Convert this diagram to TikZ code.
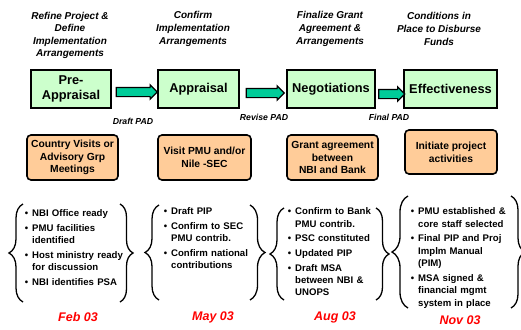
\documentclass[tikz,border=0pt]{standalone}
\usepackage{fontspec}
\setmainfont{Liberation Sans}
\usepackage{tikz}
\usetikzlibrary{positioning}
\usetikzlibrary{shapes.arrows}
\usetikzlibrary{decorations.pathreplacing}

\definecolor{phaseGreen}{HTML}{CCFFCC}
\definecolor{taskOrange}{HTML}{FFCC99}
\definecolor{arrowTeal}{HTML}{00CC99}

\newenvironment{checkList}{\raggedright\parskip=0pt
  \begin{list}{\textbullet}{\setlength{\leftmargin}{9pt}\setlength{\labelwidth}{5pt}%
    \setlength{\labelsep}{4pt}\setlength{\itemsep}{2.3pt}\setlength{\topsep}{0pt}%
    \setlength{\parsep}{0pt}\setlength{\partopsep}{0pt}}}{\end{list}}

\begin{document}
\begin{tikzpicture}
      [x=1pt,y=-1pt,
       phaseBox/.style={rectangle,draw=black,line width=1.6pt,fill=phaseGreen,minimum height=38pt,inner sep=0pt,align=center,font=\fontsize{12.8}{15}\selectfont\bfseries},
       taskBox/.style={rectangle,rounded corners=4pt,draw=black,line width=1.6pt,fill=taskOrange,minimum height=45pt,inner sep=0pt,align=center,font=\fontsize{10.3}{12.8}\selectfont\bfseries},
       goalText/.style={inner sep=0pt,align=center,font=\fontsize{10}{12.6}\selectfont\bfseries\itshape},
       padText/.style={inner sep=0pt,font=\fontsize{8.7}{10}\selectfont\bfseries\itshape},
       flowArrow/.style={single arrow,draw=black,line width=1.2pt,fill=arrowTeal,inner xsep=0pt,inner ysep=4pt,minimum width=0pt,single arrow head extend=2.6pt},
       itemList/.style={anchor=north west,inner sep=0pt,text width=#1,font=\fontsize{9.6}{12.4}\selectfont\bfseries},
       dateText/.style={inner sep=0pt,text=red,font=\fontsize{12.5}{14}\selectfont\bfseries\itshape},
       listBrace/.style={decorate,decoration={brace,amplitude=#1},line width=1.3pt}]
      \useasboundingbox (0,0) rectangle (521,329);

      % goals
      \node[goalText] (refineGoal) at (70,35.5) {Refine Project \&\\Define\\Implementation\\Arrangements};
      \node[goalText] (confirmGoal) at (193,29) {Confirm\\Implementation\\Arrangements};
      \node[goalText] (finalizeGoal) at (330,29) {Finalize Grant\\Agreement \&\\Arrangements};
      \node[goalText] (conditionsGoal) at (439,29) {Conditions in\\Place to Disburse\\Funds};

      % phases
      \node[phaseBox,minimum width=80pt] (preAppraisal) at (71,89) {Pre-\\Appraisal};
      \node[phaseBox,minimum width=81pt] (appraisal) at (198.5,89) {Appraisal};
      \node[phaseBox,minimum width=88pt] (negotiations) at (331,89) {Negotiations};
      \node[phaseBox,minimum width=93pt] (effectiveness) at (450.5,89) {Effectiveness};

      \path (preAppraisal.east) -- node[flowArrow,minimum height=41pt,yshift=-3pt] (draftArrow) {} (appraisal.west);
      \path (appraisal.east) -- node[flowArrow,minimum height=38pt,yshift=-4pt] (reviseArrow) {} (negotiations.west);
      \path (negotiations.east) -- node[flowArrow,minimum height=26pt,yshift=-5pt] (finalArrow) {} (effectiveness.west);

      \node[padText] (draftPad) at (133,121) {Draft PAD};
      \node[padText] (revisePad) at (264,117.5) {Revise PAD};
      \node[padText] (finalPad) at (389,117) {Final PAD};

      % activities
      \node[taskBox,minimum width=91pt] (countryVisits) at (72.5,157.5) {Country Visits or\\Advisory Grp\\Meetings};
      \node[taskBox,minimum width=93pt] (visitPmu) at (204.5,157.5) {Visit PMU and/or\\Nile -SEC};
      \node[taskBox,minimum width=91pt] (grantAgreement) at (332.5,157.5) {Grant agreement\\between\\NBI and Bank};
      \node[taskBox,minimum width=92pt,minimum height=44pt] (initiateProject) at (451,152) {Initiate project\\activities};

      % milestones
      \node[itemList=110pt] (febList) at (23,204) {\begin{checkList}
        \item NBI Office ready
        \item PMU facilities\\identified
        \item Host ministry ready\\for discussion
        \item NBI identifies PSA
      \end{checkList}};
      \node[itemList=100pt] (mayList) at (162,202) {\begin{checkList}
        \item Draft PIP
        \item Confirm to SEC\\PMU contrib.
        \item Confirm national\\contributions
      \end{checkList}};
      \node[itemList=100pt] (augList) at (286,202) {\begin{checkList}
        \item Confirm to Bank\\PMU contrib.
        \item PSC constituted
        \item Updated PIP
        \item Draft MSA\\between NBI \&\\UNOPS
      \end{checkList}};
      \node[itemList=110pt] (novList) at (409,202) {\begin{checkList}
        \item PMU established \&\\core staff selected
        \item Final PIP and Proj\\Implm Manual\\(PIM)
        \item MSA signed \&\\financial mgmt\\system in place
      \end{checkList}};

      \draw[listBrace=14pt] (23,302) -- (23,204);
      \draw[listBrace=13pt] (120,204) -- (120,302);
      \draw[listBrace=14pt] (159,300) -- (159,205);
      \draw[listBrace=15pt] (250,205) -- (250,300);
      \draw[listBrace=14pt] (284,300) -- (284,208);
      \draw[listBrace=13pt] (376,208) -- (376,300);
      \draw[listBrace=16pt] (408,308) -- (408,196);
      \draw[listBrace=14pt] (511,196) -- (511,308);

      \node[dateText] (febDate) at (78,317) {Feb 03};
      \node[dateText] (mayDate) at (213,317) {May 03};
      \node[dateText] (augDate) at (335,317) {Aug 03};
      \node[dateText] (novDate) at (460,320) {Nov 03};
    \end{tikzpicture}
\end{document}
